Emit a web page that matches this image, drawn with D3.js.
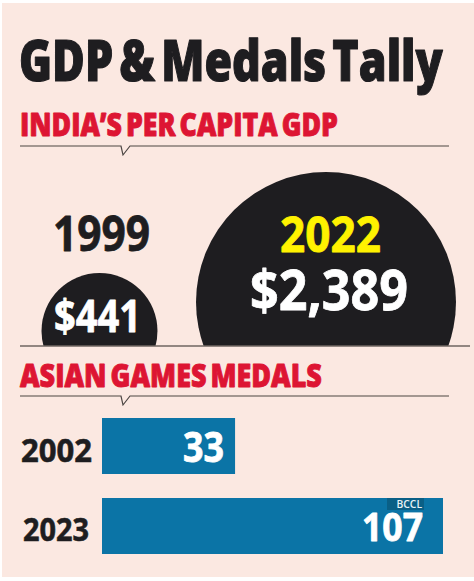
<!DOCTYPE html>
<html>
<head>
<meta charset="utf-8">
<script src="https://cdn.jsdelivr.net/npm/d3@7"></script>
<style>
html, body { margin: 0; padding: 0; background: #fff; }
svg { display: block; }
text { font-family: "Open Sans", "Noto Sans", sans-serif; font-weight: 800; }
</style>
</head>
<body>
<script>
"use strict";
//Values
var gdpYears = ["1999", "2022"];
var gdpValues = [441, 2389];
var gdpLabels = ["$441", "$2,389"];
var medalYears = ["2002", "2023"];
var medalValues = [33, 107];

var width = 474;
var height = 581;
var ink = "#1e1d20";
var red = "#dd1533";
var blue = "#0b74a6";

var svg = d3.select("body").append("svg").attr("width", width).attr("height", height);

svg.append("rect").attr("width", width).attr("height", height).attr("fill", "#fff");
svg.append("rect").attr("x", 2).attr("y", 3).attr("width", 472).attr("height", 574).attr("fill", "#fbe8e1");

//Write text, then squeeze it sideways so it spans the given width.
//bold is an extra outline, gap a change to the word spacing
function fitText (x, y, str, size, w, color, anchor, bold, gap, weight) {
  var t = svg.append("text").attr("font-size", size).attr("fill", color)
    .style("word-spacing", (gap || 0) + "px").text(str);
  if (weight) t.style("font-weight", weight);
  if (bold) t.attr("stroke", color).attr("stroke-width", bold).attr("stroke-linejoin", "round");
  var sx = w / t.node().getComputedTextLength();
  var left = anchor === "middle" ? x - w / 2 : anchor === "end" ? x - w : x;
  t.attr("transform", "translate(" + left + "," + y + ") scale(" + sx + ",1)");
}

//Section rule with the little speech bubble notch
function rule (y, x2) {
  var p = d3.path();
  p.moveTo(20, y);
  p.lineTo(121, y);
  p.lineTo(123, y + 9);
  p.lineTo(130, y);
  p.lineTo(x2, y);
  svg.append("path").attr("d", p.toString()).attr("fill", "none")
    .attr("stroke", "#4c4643").attr("stroke-width", 1.2);
}

fitText(19, 81, "GDP & Medals Tally", 57, 424, ink, "start", 1.2, -7);
fitText(20, 136, "INDIA\u2019S PER CAPITA GDP", 32, 318, red, "start", 0.9, -3.5);
rule(146, 449);

//Bubbles
var baseY = 346;
var r = d3.scalePow().exponent(0.478).domain([0, d3.max(gdpValues)]).range([0, 130]);
var cx = d3.scaleOrdinal().domain(gdpYears).range([99.5, 326]);

var clip = svg.append("clipPath").attr("id", "above-base");
clip.append("rect").attr("x", 0).attr("y", 0).attr("width", width).attr("height", baseY);

var bubbleTops = [273, 172];
svg.append("g").attr("clip-path", "url(#above-base)")
  .selectAll("circle").data(gdpValues).enter().append("circle")
  .attr("cx", function (d, i) { return cx(gdpYears[i]); })
  .attr("cy", function (d, i) { return bubbleTops[i] + r(d); })
  .attr("r", function (d) { return r(d); })
  .attr("fill", ink);

svg.append("line").attr("x1", 20).attr("x2", 470).attr("y1", baseY).attr("y2", baseY)
  .attr("stroke", "#6f6660").attr("stroke-width", 1.5);

fitText(101.5, 251, gdpYears[0], 49, 97, ink, "middle", 0.8, 0, 700);
fitText(330.5, 252, gdpYears[1], 49, 101, "#fff200", "middle", 0.8, 0, 700);
fitText(97.5, 332, gdpLabels[0], 45, 87, "#fff", "middle", 0.8, 0, 700);
fitText(329, 310, gdpLabels[1], 56, 158, "#fff", "middle", 0.8, 0, 700);

fitText(20, 387, "ASIAN GAMES MEDALS", 31, 302, red, "start", 0.9, -3.5);
rule(396, 449);

//Bars
var x = d3.scalePow().exponent(0.8).domain([0, d3.max(medalValues)]).range([0, 341]);
var y = d3.scaleBand().domain(medalYears).range([418, 554]).paddingInner(0.3);

svg.selectAll(".bar").data(medalValues).enter().append("rect")
  .attr("class", "bar")
  .attr("x", 102)
  .attr("y", function (d, i) { return y(medalYears[i]); })
  .attr("width", function (d) { return x(d); })
  .attr("height", y.bandwidth())
  .attr("fill", blue);

fitText(21, 462, medalYears[0], 33, 71, ink, "start", 0.6, 0, 700);
fitText(23, 541, medalYears[1], 32, 66, ink, "start", 0.6, 0, 700);

//BCCL tag sits under the 107 label
svg.append("rect").attr("x", 387).attr("y", 498).attr("width", 37).attr("height", 12).attr("fill", "#0a5f86");
fitText(396.5, 508, "BCCL", 10, 25.5, "#e8f2f6", "start", 0, 0, 600);

fitText(224, 462, String(medalValues[0]), 42, 41, "#fff", "end", 0.8, 0, 700);
fitText(423, 541, String(medalValues[1]), 40, 61, "#fff", "end", 0.8, 0, 700);
</script>
</body>
</html>
